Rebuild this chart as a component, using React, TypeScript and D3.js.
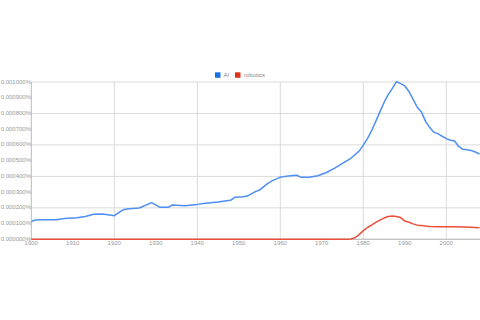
import React from "react";
import * as d3 from "d3";

const aiYears = [1900,1901,1903,1906,1908,1911,1913,1915,1917,1919,1920,1922,1923,1926,1929,1931,1933,1934,1937,1940,1942,1945,1948,1949,1951,1952,1954,1955,1957,1958,1960,1961,1963,1964,1965,1967,1969,1971,1973,1975,1977,1979,1980,1981,1982,1983,1984,1985,1986,1987,1988,1989,1990,1991,1992,1993,1994,1995,1996,1997,1998,1999,2000,2001,2002,2003,2004,2005,2006,2007,2008];
const aiValues = [1.12,1.23,1.24,1.25,1.32,1.37,1.45,1.59,1.61,1.55,1.50,1.86,1.93,1.99,2.33,2.03,2.03,2.18,2.14,2.22,2.29,2.37,2.48,2.67,2.71,2.75,3.03,3.13,3.56,3.71,3.95,4.00,4.05,4.07,3.94,3.94,4.04,4.23,4.51,4.83,5.15,5.61,5.99,6.4,6.9,7.5,8.1,8.7,9.2,9.6,10.02,9.9,9.75,9.4,8.9,8.4,8.1,7.5,7.1,6.8,6.72,6.55,6.4,6.3,6.25,5.9,5.72,5.7,5.65,5.55,5.42];

const roboticsYears = [1900,1976,1977,1978,1979,1980,1981,1982,1983,1984,1985,1986,1987,1988,1989,1990,1991,1992,1993,1994,1995,1996,1998,2000,2002,2004,2006,2008];
const roboticsValues = [0,0,0.02,0.1,0.3,0.55,0.75,0.9,1.08,1.22,1.35,1.45,1.48,1.45,1.38,1.16,1.08,0.98,0.9,0.87,0.84,0.82,0.8,0.79,0.8,0.78,0.76,0.74];

const yTicks = [0,1,2,3,4,5,6,7,8,9,10];
const xTicks = [1900,1910,1920,1930,1940,1950,1960,1970,1980,1990,2000];
const gridYears = [1920,1940,1960,1980,2000];
const seriesNames = ["AI", "robotics"];
const colors = ["#4d8ff6", "#e8503a"];
const legendColors = ["#1a73e8", "#e0321c"];

export default function App() {
  const W = 480, H = 320;
  const x = d3.scaleLinear().domain([1900, 2008]).range([31.3, 479.5]);
  const y = d3.scaleLinear().domain([0, 10]).range([239.3, 82]);
  const line = d3.line<[number, number]>().x(d => x(d[0])).y(d => y(d[1]));
  const ai = aiYears.map((yr, i) => [yr, aiValues[i]] as [number, number]);
  const rob = roboticsYears.map((yr, i) => [yr, roboticsValues[i]] as [number, number]);
  const font = "Liberation Sans, Arial, sans-serif";
  const fmt = (v: number) => (v / 10000).toFixed(6) + "%";
  return (
    <svg width={W} height={H} style={{ position: "absolute", left: 0, top: 0, background: "#fff" }}>
      {yTicks.filter(t => t % 2 === 0).map(t => (
        <line key={"gy" + t} x1={x(1900)} x2={W} y1={y(t)} y2={y(t)} stroke="#dadada" strokeWidth={1} />
      ))}
      {gridYears.map(g => (
        <line key={"gx" + g} x1={x(g)} x2={x(g)} y1={y(10)} y2={y(0)} stroke="#dadada" strokeWidth={1} />
      ))}
      <line x1={x(1900)} x2={x(1900)} y1={y(10)} y2={y(0)} stroke="#bbb" strokeWidth={1} />
      <line x1={x(1900)} x2={W} y1={y(0)} y2={y(0)} stroke="#bbb" strokeWidth={1} />
      {yTicks.map(t => (
        <text key={"yl" + t} x={31} y={y(t)} fontSize={6} fill="#999" textAnchor="end" dominantBaseline="middle" fontFamily={font}>{fmt(t)}</text>
      ))}
      {xTicks.map(t => (
        <text key={"xl" + t} x={x(t)} y={244.5} fontSize={6} fill="#999" textAnchor="middle" fontFamily={font}>{t}</text>
      ))}
      <path d={line(ai) || ""} fill="none" stroke={colors[0]} strokeWidth={1.5} strokeLinejoin="round" />
      <path d={line(rob) || ""} fill="none" stroke={colors[1]} strokeWidth={1.5} strokeLinejoin="round" />
      <g fontFamily={font} fontSize={6} fill="#888">
        <rect x={215} y={72.3} width={5.5} height={5.5} fill={legendColors[0]} />
        <text x={223.5} y={77.3}>{seriesNames[0]}</text>
        <rect x={235} y={72.3} width={5.5} height={5.5} fill={legendColors[1]} />
        <text x={244} y={77.3}>{seriesNames[1]}</text>
      </g>
    </svg>
  );
}
